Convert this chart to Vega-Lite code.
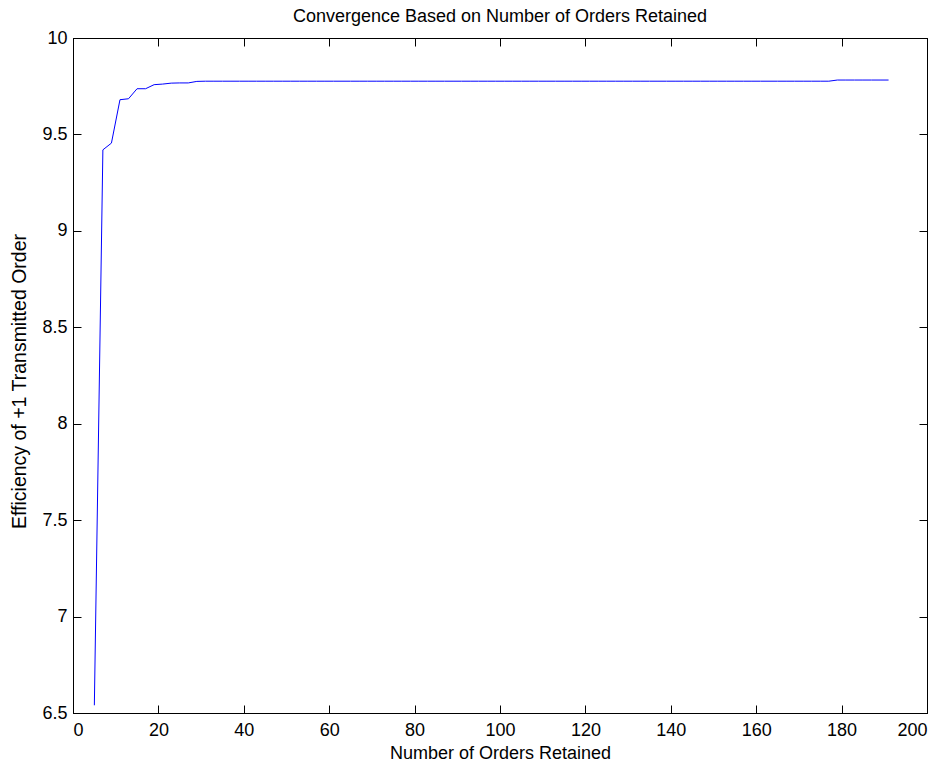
{
  "$schema": "https://vega.github.io/schema/vega-lite/v6.json",
  "autosize": "none",
  "width": 854,
  "height": 675,
  "padding": {"left": 73, "top": 38, "right": 19, "bottom": 50},
  "background": "white",
  "title": {"text": "Convergence Based on Number of Orders Retained", "font": "Liberation Sans", "fontSize": 18, "fontWeight": "normal", "color": "black", "offset": 3},
  "config": {
    "view": {"stroke": "black", "strokeWidth": 1},
    "axis": {"font": "Liberation Sans", "labelFont": "Liberation Sans", "titleFont": "Liberation Sans", "labelFontSize": 18, "titleFontSize": 18, "titleFontWeight": "normal", "labelColor": "black", "titleColor": "black", "domainColor": "black", "tickColor": "black", "grid": false, "tickSize": -8}
  },
  "data": {"values": [
    {"n":5,"e":6.54},{"n":7,"e":9.42},{"n":9,"e":9.455},{"n":11,"e":9.68},{"n":13,"e":9.685},{"n":15,"e":9.737},{"n":17,"e":9.737},{"n":19,"e":9.758},{"n":21,"e":9.761},{"n":23,"e":9.766},{"n":25,"e":9.767},{"n":27,"e":9.767},{"n":29,"e":9.775},
    {"n":31,"e":9.776},{"n":33,"e":9.776},{"n":35,"e":9.776},{"n":37,"e":9.776},{"n":39,"e":9.776},{"n":41,"e":9.776},{"n":43,"e":9.776},{"n":45,"e":9.776},{"n":47,"e":9.776},{"n":49,"e":9.776},
    {"n":51,"e":9.776},{"n":53,"e":9.776},{"n":55,"e":9.776},{"n":57,"e":9.776},{"n":59,"e":9.776},{"n":61,"e":9.776},{"n":63,"e":9.776},{"n":65,"e":9.776},{"n":67,"e":9.776},{"n":69,"e":9.776},
    {"n":71,"e":9.776},{"n":73,"e":9.776},{"n":75,"e":9.776},{"n":77,"e":9.776},{"n":79,"e":9.776},{"n":81,"e":9.776},{"n":83,"e":9.776},{"n":85,"e":9.776},{"n":87,"e":9.776},{"n":89,"e":9.776},
    {"n":91,"e":9.776},{"n":93,"e":9.776},{"n":95,"e":9.776},{"n":97,"e":9.776},{"n":99,"e":9.776},{"n":101,"e":9.776},{"n":103,"e":9.776},{"n":105,"e":9.776},{"n":107,"e":9.776},{"n":109,"e":9.776},
    {"n":111,"e":9.776},{"n":113,"e":9.776},{"n":115,"e":9.776},{"n":117,"e":9.776},{"n":119,"e":9.776},{"n":121,"e":9.776},{"n":123,"e":9.776},{"n":125,"e":9.776},{"n":127,"e":9.776},{"n":129,"e":9.776},
    {"n":131,"e":9.776},{"n":133,"e":9.776},{"n":135,"e":9.776},{"n":137,"e":9.776},{"n":139,"e":9.776},{"n":141,"e":9.776},{"n":143,"e":9.776},{"n":145,"e":9.776},{"n":147,"e":9.776},{"n":149,"e":9.776},
    {"n":151,"e":9.776},{"n":153,"e":9.776},{"n":155,"e":9.776},{"n":157,"e":9.776},{"n":159,"e":9.776},{"n":161,"e":9.776},{"n":163,"e":9.776},{"n":165,"e":9.776},{"n":167,"e":9.776},{"n":169,"e":9.776},
    {"n":171,"e":9.776},{"n":173,"e":9.776},{"n":175,"e":9.776},{"n":177,"e":9.776},{"n":179,"e":9.782},{"n":181,"e":9.782},{"n":183,"e":9.782},{"n":185,"e":9.782},{"n":187,"e":9.782},{"n":189,"e":9.782},{"n":191,"e":9.782}
  ]},
  "layer": [
    {
      "mark": {"type": "line", "color": "#0000ff", "strokeWidth": 1},
      "encoding": {
        "x": {"field": "n", "type": "quantitative", "scale": {"domain": [0, 200], "nice": false, "zero": false},
              "axis": {"orient": "bottom", "values": [0,20,40,60,80,100,120,140,160,180,200], "title": "Number of Orders Retained", "labelPadding": 16, "titlePadding": 5}},
        "y": {"field": "e", "type": "quantitative", "scale": {"domain": [6.5, 10], "nice": false, "zero": false},
              "axis": {"orient": "left", "values": [6.5,7,7.5,8,8.5,9,9.5,10], "format": "~g", "title": "Efficiency of +1 Transmitted Order", "titleFontSize": 19.5, "labelPadding": 14, "titleX": -54, "titleY": 343, "titleBaseline": "middle", "labelFlush": false}}
      }
    },
    {
      "mark": {"type": "line", "strokeOpacity": 0},
      "encoding": {
        "x": {"field": "n", "type": "quantitative", "scale": {"domain": [0, 200], "nice": false, "zero": false},
              "axis": {"orient": "top", "values": [0,20,40,60,80,100,120,140,160,180,200], "labels": false, "title": null}},
        "y": {"field": "e", "type": "quantitative", "scale": {"domain": [6.5, 10], "nice": false, "zero": false},
              "axis": {"orient": "right", "values": [6.5,7,7.5,8,8.5,9,9.5,10], "labels": false, "title": null}}
      }
    }
  ],
  "resolve": {"axis": {"x": "independent", "y": "independent"}}
}
